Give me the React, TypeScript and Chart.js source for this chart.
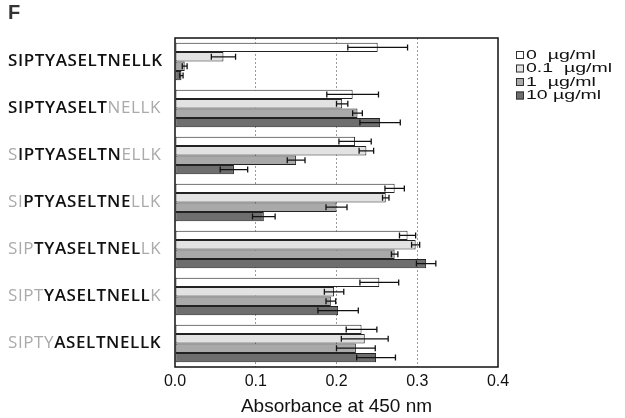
import React, { useEffect, useRef } from "react";
import { Chart, registerables } from "chart.js";
Chart.register(...registerables);

// Peptide labels: grey prefix, black core, grey suffix
const labelPrefix = ["", "", "S", "SI", "SIP", "SIPT", "SIPTY"];
const labelCore = ["SIPTYASELTNELLK", "SIPTYASELT", "IPTYASELTN", "PTYASELTNE", "TYASELTNEL", "YASELTNELL", "ASELTNELLK"];
const labelSuffix = ["", "NELLK", "ELLK", "LLK", "LK", "K", ""];
const categories = labelPrefix.map((p, i) => p + labelCore[i] + labelSuffix[i]);

const seriesNames = ["0  µg/ml", "0.1  µg/ml", "1  µg/ml", "10 µg/ml"];
const conc0 = [0.251, 0.220, 0.223, 0.272, 0.288, 0.253, 0.231];
const err0 = [0.037, 0.032, 0.020, 0.012, 0.010, 0.024, 0.019];
const conc01 = [0.060, 0.207, 0.237, 0.261, 0.298, 0.197, 0.235];
const err01 = [0.015, 0.007, 0.009, 0.004, 0.005, 0.012, 0.029];
const conc1 = [0.012, 0.226, 0.150, 0.200, 0.272, 0.193, 0.224];
const err1 = [0.003, 0.006, 0.011, 0.013, 0.004, 0.006, 0.024];
const conc10 = [0.008, 0.254, 0.073, 0.110, 0.311, 0.202, 0.249];
const err10 = [0.002, 0.025, 0.017, 0.014, 0.012, 0.025, 0.024];
const xTicks = [0, 0.1, 0.2, 0.3, 0.4];

const seriesValues = [conc0, conc01, conc1, conc10];
const seriesErrors = [err0, err01, err1, err10];
const fills = ["#ffffff", "#e2e2e2", "#a9a9a9", "#6e6e6e"];

const decorPlugin = {
  id: "decor",
  afterDatasetsDraw(chart: any) {
    const ctx = chart.ctx;
    const xs = chart.scales.x;
    ctx.save();
    ctx.strokeStyle = "#111";
    ctx.lineWidth = 1.3;
    chart.data.datasets.forEach((ds: any, di: number) => {
      const meta = chart.getDatasetMeta(di);
      meta.data.forEach((bar: any, i: number) => {
        const v = ds.data[i];
        const e = seriesErrors[di][i];
        const x1 = xs.getPixelForValue(v - e);
        const x2 = xs.getPixelForValue(v + e);
        const y = bar.y;
        const h = 3;
        ctx.beginPath();
        ctx.moveTo(x1, y);
        ctx.lineTo(x2, y);
        ctx.moveTo(x1, y - h);
        ctx.lineTo(x1, y + h);
        ctx.moveTo(x2, y - h);
        ctx.lineTo(x2, y + h);
        ctx.stroke();
      });
    });
    ctx.restore();
  },
  afterDraw(chart: any) {
    const ctx = chart.ctx;
    const a = chart.chartArea;
    const ys = chart.scales.y;
    ctx.save();
    // frame
    ctx.strokeStyle = "#111";
    ctx.lineWidth = 1.5;
    ctx.strokeRect(a.left, a.top, a.right - a.left, a.bottom - a.top);
    // panel letter
    ctx.fillStyle = "#333";
    ctx.font = "bold 20px 'Liberation Sans', Arial, sans-serif";
    ctx.textBaseline = "top";
    ctx.textAlign = "left";
    ctx.fillText("F", 8, 3);
    // y labels
    ctx.textBaseline = "middle";
    (ctx as any).letterSpacing = "0.6px";
    categories.forEach((_, i) => {
      const y = ys.getPixelForValue(i);
      let x = 8;
      const parts = [
        { t: labelPrefix[i], c: "#aaaaaa", f: "400 17px 'Open Sans', sans-serif" },
        { t: labelCore[i], c: "#111111", f: "600 17px 'Open Sans', sans-serif" },
        { t: labelSuffix[i], c: "#aaaaaa", f: "400 17px 'Open Sans', sans-serif" },
      ];
      parts.forEach((p) => {
        if (!p.t) return;
        ctx.font = p.f;
        ctx.fillStyle = p.c;
        ctx.fillText(p.t, x, y);
        x += ctx.measureText(p.t).width;
      });
    });
    (ctx as any).letterSpacing = "0px";
    // legend
    ctx.font = "13px 'Liberation Sans', Arial, sans-serif";
    ctx.textBaseline = "middle";
    chart.data.datasets.forEach((ds: any, di: number) => {
      const ly = a.top + 17 + di * 13.5;
      const lx = a.right + 18;
      ctx.fillStyle = ds.backgroundColor;
      ctx.fillRect(lx, ly - 4, 8, 8);
      ctx.strokeStyle = "#333";
      ctx.lineWidth = 1;
      ctx.strokeRect(lx + 0.5, ly - 3.5, 7, 7);
      ctx.fillStyle = "#111";
      ctx.save();
      ctx.translate(lx + 10, ly);
      ctx.scale(1.5, 1);
      ctx.fillText(ds.label, 0, 0);
      ctx.restore();
    });
    ctx.restore();
  },
};

export default function App() {
  const ref = useRef<HTMLCanvasElement>(null);
  useEffect(() => {
    if (!ref.current) return;
    const chart = new Chart(ref.current, {
      type: "bar",
      data: {
        labels: categories,
        datasets: seriesValues.map((vals, di) => ({
          label: seriesNames[di],
          data: vals,
          backgroundColor: fills[di],
          borderColor: "#222",
          borderWidth: 1,
          borderSkipped: false,
          categoryPercentage: 0.8,
          barPercentage: 1.0,
        })),
      },
      options: {
        indexAxis: "y",
        animation: false,
        responsive: false,
        devicePixelRatio: 1,
        layout: { padding: { top: 38, right: 127, bottom: 0, left: 0 } },
        plugins: { legend: { display: false }, tooltip: { enabled: false } },
        scales: {
          x: {
            type: "linear",
            min: 0,
            max: 0.4,
            afterBuildTicks: (s: any) => {
              s.ticks = xTicks.map((v) => ({ value: v }));
            },
            afterFit: (s: any) => {
              s.height = 51;
            },
            ticks: {
              callback: (v: any) => Number(v).toFixed(1),
              font: { family: "'Liberation Sans', Arial, sans-serif", size: 16 },
              color: "#111",
              padding: 5,
              maxRotation: 0,
            },
            grid: {
              drawTicks: false,
              color: (c: any) => {
                const v = c.tick ? c.tick.value : 0;
                return v > 0.05 && v < 0.35 ? "#9a9a9a" : "rgba(0,0,0,0)";
              },
              lineWidth: 1,
              borderDash: [2, 2],
            } as any,
            border: { display: false, dash: [2, 2] },
            title: {
              display: true,
              text: "Absorbance at 450 nm",
              font: { family: "'Liberation Sans', Arial, sans-serif", size: 19 },
              color: "#111",
              padding: { top: 0, bottom: 0 },
            },
          },
          y: {
            type: "category",
            ticks: { display: false },
            grid: { display: false },
            border: { display: false },
            afterFit: (s: any) => {
              s.width = 175;
            },
          },
        },
      },
      plugins: [decorPlugin],
    } as any);
    return () => chart.destroy();
  }, []);
  return (
    <div style={{ position: "absolute", left: 0, top: 0, width: 625, height: 418, background: "#fff" }}>
      <canvas ref={ref} width={625} height={418} />
    </div>
  );
}
